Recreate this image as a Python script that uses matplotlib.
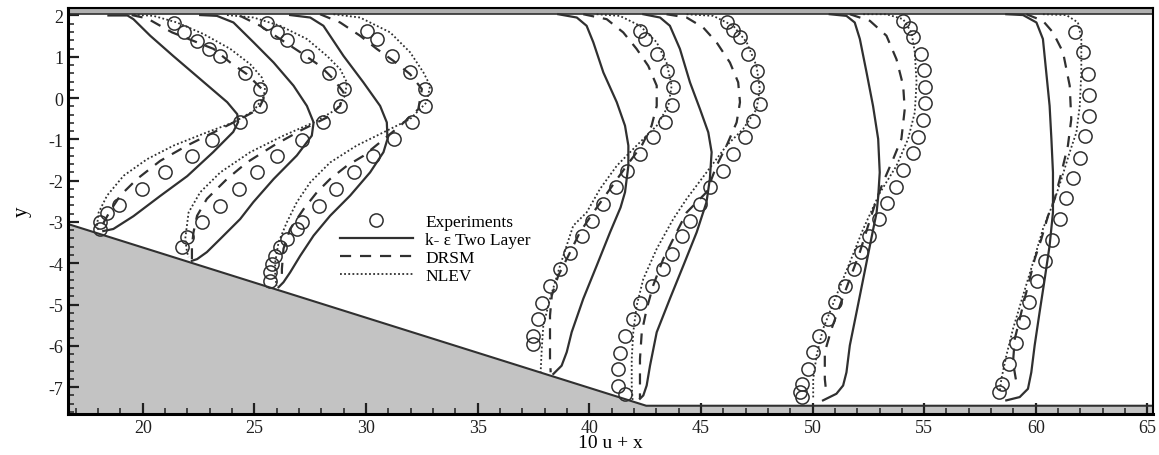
import matplotlib
matplotlib.use('Agg')
import matplotlib.pyplot as plt
from matplotlib.ticker import MultipleLocator

plt.rcParams['font.family'] = ['Liberation Serif', 'DejaVu Serif']
plt.rcParams['axes.unicode_minus'] = False

# Geometrie du canal (paroi superieure, rampe, plancher)
x_lim = (16.65, 65.25)
y_lim = (-7.65, 2.18)
wall_top = 2.03
ramp_x = [16.65, 42.55]
ramp_y = [-3.05, -7.45]
floor_y = -7.45

# Profils : abscisse = 10 u + x, ordonnee = y
exp_x = [
    [21.38, 21.83, 22.43, 22.95, 23.47, 24.59, 25.26, 25.23, 24.36, 23.10, 22.20, 21.01, 19.96, 18.92, 18.40, 18.10, 18.07],
    [25.56, 26.01, 26.45, 27.35, 28.32, 28.99, 28.84, 28.09, 27.13, 26.01, 25.11, 24.29, 23.47, 22.65, 21.98, 21.75],
    [30.04, 30.48, 31.15, 31.97, 32.65, 32.65, 32.05, 31.23, 30.33, 29.44, 28.66, 27.87, 27.13, 26.90, 26.45, 26.15, 25.93, 25.78, 25.71, 25.71],
    [42.27, 42.49, 43.02, 43.46, 43.73, 43.69, 43.39, 42.87, 42.27, 41.67, 41.20, 40.60, 40.11, 39.66, 39.14, 38.69, 38.24, 37.87, 37.72, 37.49, 37.47],
    [46.15, 46.45, 46.75, 47.12, 47.49, 47.49, 47.64, 47.34, 46.97, 46.45, 46.00, 45.40, 44.96, 44.51, 44.14, 43.69, 43.31, 42.79, 42.27, 41.97, 41.60, 41.37, 41.30, 41.30, 41.60],
    [54.06, 54.36, 54.51, 54.88, 54.99, 55.06, 55.06, 54.95, 54.73, 54.48, 54.06, 53.72, 53.34, 52.97, 52.53, 52.15, 51.85, 51.45, 51.00, 50.70, 50.30, 50.00, 49.80, 49.55, 49.46, 49.51],
    [61.74, 62.11, 62.34, 62.38, 62.38, 62.19, 62.00, 61.67, 61.37, 61.07, 60.74, 60.40, 60.05, 59.70, 59.43, 59.10, 58.80, 58.50, 58.35],
]
exp_y = [
    [1.81, 1.60, 1.39, 1.20, 1.01, 0.60, 0.22, -0.20, -0.59, -1.01, -1.40, -1.80, -2.20, -2.60, -2.79, -2.99, -3.17],
    [1.81, 1.60, 1.41, 1.01, 0.60, 0.23, -0.19, -0.59, -1.01, -1.40, -1.80, -2.20, -2.61, -2.99, -3.37, -3.61],
    [1.63, 1.43, 1.02, 0.62, 0.23, -0.19, -0.59, -0.99, -1.40, -1.80, -2.20, -2.61, -2.99, -3.17, -3.41, -3.61, -3.82, -4.02, -4.22, -4.42],
    [1.63, 1.43, 1.06, 0.66, 0.26, -0.17, -0.57, -0.95, -1.35, -1.76, -2.16, -2.56, -2.97, -3.35, -3.75, -4.15, -4.56, -4.96, -5.35, -5.75, -5.95],
    [1.85, 1.65, 1.47, 1.06, 0.66, 0.26, -0.15, -0.55, -0.95, -1.35, -1.76, -2.16, -2.56, -2.97, -3.35, -3.77, -4.15, -4.56, -4.96, -5.36, -5.77, -6.17, -6.56, -6.96, -7.16],
    [1.87, 1.69, 1.47, 1.06, 0.68, 0.27, -0.13, -0.53, -0.94, -1.34, -1.74, -2.15, -2.54, -2.94, -3.35, -3.73, -4.14, -4.54, -4.94, -5.35, -5.75, -6.15, -6.56, -6.92, -7.12, -7.24],
    [1.59, 1.11, 0.58, 0.07, -0.43, -0.93, -1.44, -1.94, -2.43, -2.93, -3.43, -3.94, -4.42, -4.93, -5.43, -5.93, -6.44, -6.92, -7.12],
]

# k-epsilon deux couches
ke_x = [
    [18.46, 19.31, 19.58, 20.33, 21.36, 22.57, 23.78, 24.23, 24.27, 24.05, 23.15, 21.99, 20.78, 19.58, 18.68, 18.23],
    [22.57, 23.32, 24.06, 24.96, 25.86, 26.75, 27.35, 27.65, 27.57, 26.90, 25.86, 24.95, 24.36, 23.47, 22.87, 22.43, 22.20],
    [26.60, 27.50, 28.09, 28.99, 29.88, 30.63, 30.93, 30.96, 30.78, 30.18, 29.29, 28.39, 27.65, 27.05, 26.60, 26.30, 26.08],
    [38.61, 39.44, 39.88, 40.18, 40.63, 41.23, 41.60, 41.75, 41.75, 41.60, 41.40, 40.93, 40.33, 39.73, 39.21, 38.99, 38.76, 38.39],
    [42.42, 43.17, 43.61, 44.06, 44.51, 44.96, 45.33, 45.48, 45.40, 45.25, 44.81, 44.21, 43.61, 43.02, 42.72, 42.57, 42.42, 42.27],
    [50.77, 51.52, 51.89, 52.12, 52.42, 52.71, 52.94, 53.01, 52.94, 52.87, 52.57, 52.27, 51.97, 51.67, 51.52, 51.37, 51.07, 50.47],
    [58.68, 59.43, 60.03, 60.32, 60.47, 60.62, 60.70, 60.77, 60.77, 60.62, 60.40, 60.17, 59.95, 59.80, 59.65, 59.28, 58.68],
]
ke_y = [
    [2.00, 2.00, 1.91, 1.51, 1.02, 0.46, -0.10, -0.39, -0.58, -0.82, -1.31, -1.89, -2.37, -2.86, -3.17, -3.22],
    [2.01, 1.99, 1.83, 1.35, 0.86, 0.30, -0.19, -0.59, -0.91, -1.39, -1.96, -2.52, -2.93, -3.41, -3.73, -3.90, -3.94],
    [2.01, 1.95, 1.75, 1.02, 0.38, -0.19, -0.59, -0.99, -1.31, -1.80, -2.36, -2.85, -3.33, -3.82, -4.22, -4.46, -4.58],
    [2.03, 1.95, 1.75, 1.35, 0.62, -0.10, -0.67, -1.15, -1.64, -2.28, -2.65, -3.25, -4.06, -4.86, -5.67, -6.15, -6.48, -6.68],
    [2.03, 1.95, 1.75, 1.19, 0.38, -0.27, -0.83, -1.31, -1.96, -2.52, -3.25, -4.06, -4.86, -5.67, -6.48, -6.96, -7.20, -7.28],
    [2.03, 1.99, 1.83, 1.43, 0.62, -0.19, -0.99, -1.80, -2.40, -2.77, -3.57, -4.38, -5.19, -5.99, -6.64, -6.96, -7.16, -7.32],
    [2.03, 2.01, 1.83, 1.43, 0.62, -0.19, -0.99, -1.80, -2.77, -3.57, -4.38, -5.19, -5.99, -6.64, -7.04, -7.24, -7.32],
]

# DRSM
drsm_x = [
    [19.50, 20.19, 21.31, 23.17, 23.92, 24.66, 25.33, 25.41, 25.18, 24.36, 23.32, 21.98, 20.78, 19.74, 18.99, 18.54, 18.25, 18.17],
    [24.36, 25.26, 26.15, 27.05, 27.94, 28.54, 28.99, 28.84, 28.25, 27.05, 25.86, 24.66, 23.77, 22.87, 22.43, 22.27, 22.20, 22.20],
    [27.94, 28.84, 29.73, 30.48, 31.23, 31.97, 32.50, 32.34, 31.53, 30.63, 29.88, 29.14, 28.39, 27.80, 27.20, 26.60, 26.30, 26.23, 26.23],
    [39.73, 40.78, 41.52, 42.12, 42.64, 43.02, 43.02, 42.79, 42.35, 41.67, 40.93, 40.18, 39.58, 39.06, 38.61, 38.32, 38.24, 38.24, 38.24, 38.27],
    [43.46, 44.36, 45.10, 45.70, 46.30, 46.67, 46.75, 46.60, 46.15, 45.70, 45.25, 44.36, 43.91, 43.31, 42.86, 42.57, 42.35, 42.27, 42.27, 42.27],
    [51.67, 52.57, 53.31, 53.76, 54.06, 54.13, 53.98, 53.61, 53.16, 52.87, 52.49, 52.12, 51.67, 51.22, 50.85, 50.55, 50.55, 50.62],
    [59.58, 60.32, 60.77, 61.22, 61.52, 61.59, 61.44, 61.15, 60.85, 60.55, 60.25, 59.95, 59.73, 59.50, 59.28, 59.06, 58.98, 59.13],
]
drsm_y = [
    [2.01, 1.93, 1.59, 1.19, 0.86, 0.58, 0.22, -0.02, -0.27, -0.51, -0.79, -1.15, -1.52, -1.96, -2.36, -2.73, -3.01, -3.17],
    [1.99, 1.75, 1.43, 1.11, 0.78, 0.46, 0.14, -0.19, -0.47, -0.79, -1.15, -1.56, -1.96, -2.44, -2.85, -3.25, -3.57, -3.90],
    [2.03, 1.83, 1.51, 1.19, 0.90, 0.58, 0.22, -0.27, -0.67, -1.07, -1.40, -1.64, -1.96, -2.28, -2.69, -3.17, -3.65, -4.14, -4.46],
    [2.03, 1.91, 1.59, 1.19, 0.78, 0.30, -0.19, -0.67, -1.15, -1.64, -2.20, -2.77, -3.25, -3.82, -4.30, -4.78, -5.27, -5.83, -6.32, -6.64],
    [2.03, 1.95, 1.71, 1.35, 0.86, 0.38, -0.10, -0.59, -1.15, -1.64, -2.28, -2.77, -3.25, -3.90, -4.54, -5.11, -5.67, -6.32, -6.88, -7.28],
    [2.03, 1.87, 1.51, 0.94, 0.30, -0.27, -0.99, -1.48, -2.04, -2.45, -3.09, -3.73, -4.38, -5.03, -5.59, -6.15, -6.80, -7.16],
    [2.03, 1.87, 1.59, 1.11, 0.30, -0.51, -1.15, -1.80, -2.44, -2.85, -3.41, -3.90, -4.38, -4.86, -5.35, -5.83, -6.40, -6.88],
]

# NLEV
nlev_x = [
    [19.59, 20.48, 21.53, 22.72, 23.92, 24.81, 25.33, 25.48, 25.41, 24.96, 24.06, 22.87, 21.38, 20.19, 19.14, 18.40, 18.02, 17.95, 18.02],
    [23.77, 24.96, 26.15, 27.35, 28.25, 28.84, 29.14, 29.06, 28.69, 27.65, 26.30, 24.81, 23.47, 22.57, 22.05, 21.90, 21.98, 22.05],
    [28.54, 29.73, 31.08, 31.97, 32.57, 32.87, 32.72, 31.97, 30.78, 29.58, 28.39, 27.50, 26.90, 26.45, 26.08, 25.93, 25.93, 26.01],
    [40.33, 41.37, 42.27, 43.02, 43.46, 43.69, 43.54, 43.02, 42.12, 41.23, 40.48, 39.88, 39.28, 38.69, 38.24, 37.94, 37.87, 37.82],
    [44.36, 45.55, 46.45, 47.05, 47.49, 47.64, 47.49, 46.89, 46.15, 45.25, 44.36, 43.76, 43.02, 42.42, 42.12, 41.97, 41.90, 41.90, 41.94],
    [52.27, 53.31, 54.06, 54.43, 54.58, 54.66, 54.58, 54.28, 53.76, 53.01, 52.27, 51.67, 51.07, 50.47, 50.18, 50.03, 50.03],
    [60.32, 61.37, 61.89, 62.04, 62.04, 61.97, 61.82, 61.52, 61.15, 60.85, 60.32, 59.88, 59.43, 58.98, 58.68, 58.46, 58.38],
]
nlev_y = [
    [2.02, 1.99, 1.83, 1.55, 1.19, 0.82, 0.50, 0.26, 0.02, -0.31, -0.59, -0.83, -1.15, -1.48, -1.88, -2.36, -2.77, -3.09, -3.21],
    [2.01, 1.95, 1.75, 1.43, 1.02, 0.70, 0.38, 0.06, -0.27, -0.59, -0.91, -1.31, -1.80, -2.28, -2.77, -3.41, -3.73, -3.85],
    [2.03, 1.95, 1.59, 1.11, 0.62, 0.30, -0.10, -0.51, -0.83, -1.15, -1.56, -2.04, -2.52, -3.01, -3.49, -3.98, -4.38, -4.54],
    [2.03, 1.99, 1.75, 1.35, 0.86, 0.30, -0.19, -0.67, -1.15, -1.64, -2.20, -2.77, -3.09, -4.06, -4.86, -5.51, -6.07, -6.64],
    [2.03, 1.99, 1.75, 1.35, 0.78, 0.22, -0.27, -0.75, -1.15, -1.80, -2.44, -2.93, -3.65, -4.38, -5.03, -5.67, -6.32, -6.96, -7.32],
    [2.03, 2.03, 1.91, 1.59, 1.11, 0.38, -0.35, -0.99, -1.64, -2.30, -3.17, -3.98, -4.78, -5.59, -6.24, -6.80, -7.28],
    [2.03, 2.01, 1.83, 1.43, 0.62, -0.19, -0.83, -1.31, -1.96, -2.45, -3.17, -3.98, -4.78, -5.59, -6.24, -6.80, -7.12],
]

couleur = '#303030'
gris = '#c3c3c3'

fig = plt.figure(figsize=(11.59, 4.56), dpi=100)
ax = fig.add_axes([0.0587, 0.0899, 0.9361, 0.8903])

# Parois grisees
ax.fill_between(ramp_x + [x_lim[1]], ramp_y + [floor_y], y_lim[0], color=gris, zorder=1, lw=0)
ax.plot(ramp_x + [x_lim[1]], ramp_y + [floor_y], color=couleur, lw=1.5, zorder=2)
ax.axhspan(wall_top, y_lim[1], color='#b0b0b0', zorder=1, lw=0)
ax.axhline(wall_top, color=couleur, lw=1.2, zorder=2)

for i in range(len(exp_x)):
    ax.plot(ke_x[i], ke_y[i], color=couleur, lw=1.6, zorder=3,
            label='k- ε Two Layer' if i == 0 else None)
    ax.plot(drsm_x[i], drsm_y[i], color=couleur, lw=1.6, ls=(0, (5, 4)), zorder=3,
            label='DRSM' if i == 0 else None)
    ax.plot(nlev_x[i], nlev_y[i], color=couleur, lw=1.3, ls=(0, (1, 1.3)), zorder=3,
            label='NLEV' if i == 0 else None)
    ax.plot(exp_x[i], exp_y[i], 'o', mfc='none', mec=couleur, ms=9.5, mew=1.1, zorder=4,
            label='Experiments' if i == 0 else None)

handles, labels = ax.get_legend_handles_labels()
ordre = [3, 0, 1, 2]
ax.legend([handles[k] for k in ordre], [labels[k] for k in ordre],
          loc='upper left', bbox_to_anchor=(0.2507, 0.493), frameon=False,
          fontsize=12.5, handlelength=4.2, handletextpad=0.7, labelspacing=0.1,
          borderpad=0, borderaxespad=0, numpoints=1)

ax.set_xlim(*x_lim)
ax.set_ylim(*y_lim)
ax.xaxis.set_major_locator(MultipleLocator(5))
ax.xaxis.set_minor_locator(MultipleLocator(1))
ax.yaxis.set_major_locator(MultipleLocator(1))
ax.yaxis.set_minor_locator(MultipleLocator(0.2))
ax.tick_params(which='both', direction='in', top=False, right=False, labelsize=13, colors='#202020')
ax.tick_params(which='major', length=8, width=1.6)
ax.tick_params(which='minor', length=4, width=1.1)
for cote in ['left', 'bottom']:
    ax.spines[cote].set_linewidth(2.2)
for cote in ['right', 'top']:
    ax.spines[cote].set_linewidth(1.5)

ax.set_xlabel('10 u + x', fontsize=14, labelpad=-1)
ax.set_ylabel('y', fontsize=15, labelpad=12)

fig.savefig('out.png', dpi=100)
